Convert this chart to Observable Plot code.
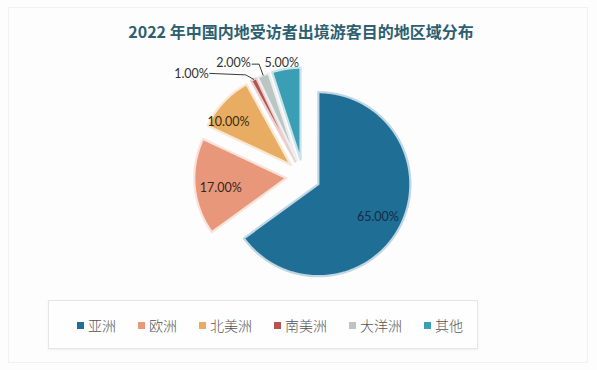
<!DOCTYPE html>
<html>
<head>
<meta charset="utf-8">
<script src="https://cdn.jsdelivr.net/npm/d3@7"></script>
<script src="https://cdn.jsdelivr.net/npm/@observablehq/plot@0.6"></script>
<style>
  html, body { margin: 0; padding: 0; background: #fdfdfd; }
  #wrap { position: relative; width: 597px; height: 370px; overflow: hidden; background: #fdfdfd; }
  #frame { position: absolute; left: 8px; top: 7px; width: 580px; height: 356px; border: 1px solid #f1f1f1; box-sizing: border-box; }
  #title { position: absolute; left: 0; top: 20px; width: 602px; text-align: center;
    font-family: "Noto Sans CJK SC", "Noto Sans", sans-serif; font-weight: 700; font-size: 16px; line-height: 22px; color: #2d5f70; }
  #chart { position: absolute; left: 0; top: 0; }
  #legend { position: absolute; left: 48px; top: 300px; width: 430px; height: 49px; box-sizing: border-box;
    border: 1px solid #e6e6e6; background: #fefefe; box-shadow: 0 1px 2px rgba(0,0,0,0.06); }
  .item { position: absolute; top: 15px; font-family: "Noto Sans CJK SC", sans-serif; font-weight: 300; font-size: 14px; line-height: 18px; color: #555; white-space: nowrap; }
  .sw { display: inline-block; width: 7px; height: 7px; margin-right: 4px; vertical-align: 2px; }
</style>
</head>
<body>
<div id="wrap">
  <div id="frame"></div>
  <div id="chart"></div>
  <div id="title"></div>
  <div id="legend"></div>
</div>
<script>
// ---- data ----
const titleText = "2022 年中国内地受访者出境游客目的地区域分布";
const regions = ["亚洲", "欧洲", "北美洲", "南美洲", "大洋洲", "其他"];
const shares = [65, 17, 10, 1, 2, 5];
const colors = ["#1f6e96", "#e9977b", "#e8ad62", "#b5544f", "#bac5c4", "#3a9fb5"];
const labels = ["65.00%", "17.00%", "10.00%", "1.00%", "2.00%", "5.00%"];

// ---- layout ----
const W = 597, H = 370;
const cx = 302.7, cy = 176, R = 92, explode = 17;
// label placement per slice: [radius factor from apex, angle offset (deg), dx, dy]
const labelLayout = [
  {rf: 0.74, da: 2, color: "#152b45"},
  {rf: 0.72, da: -3, color: "#3b2518"},
  {rf: 0.82, da: -9, color: "#3a2a10"},
  {out: true, x: 191, y: 73, color: "#333", leader: [[0, 0], [-8, -4.5], [-44, -6]]},
  {out: true, x: 233, y: 62, color: "#333", leader: [[0, 0], [-4, -11], [-11, -11]]},
  {rf: 1.07, da: -2, color: "#333"}
];

const arcs = d3.pie().sort(null).value(d => d)(shares);
const pt = (a, r) => [Math.sin(a) * r, -Math.cos(a) * r];

const polys = [];
const textRows = [];
const leaders = [];
arcs.forEach((a, i) => {
  const mid = (a.startAngle + a.endAngle) / 2;
  const [ox, oy] = pt(mid, explode);
  const ax = cx + ox, ay = cy + oy;
  const fill = colors[i];
  const stroke = d3.interpolateRgb(fill, "#ffffff")(0.72);
  polys.push({key: i, x: ax, y: ay, fill, stroke});
  const n = Math.max(4, Math.ceil((a.endAngle - a.startAngle) / (Math.PI / 360)));
  for (let k = 0; k <= n; k++) {
    const t = a.startAngle + (a.endAngle - a.startAngle) * k / n;
    const [px, py] = pt(t, R);
    polys.push({key: i, x: ax + px, y: ay + py, fill, stroke});
  }
  const L = labelLayout[i];
  if (L.out) {
    textRows.push({x: L.x, y: L.y, text: labels[i], color: L.color});
    const [ex, ey] = pt(mid, R);
    const sx = ax + ex, sy = ay + ey;
    L.leader.forEach(([dx, dy]) => leaders.push({key: i, x: sx + dx, y: sy + dy}));
  } else {
    const la = mid + L.da * Math.PI / 180;
    const [lx, ly] = pt(la, R * L.rf);
    textRows.push({x: ax + lx, y: ay + ly, text: labels[i], color: L.color});
  }
});

const chart = Plot.plot({
  width: W, height: H,
  margin: 0,
  x: {domain: [0, W], range: [0, W], axis: null},
  y: {domain: [0, H], range: [0, H], axis: null},
  color: {type: "identity"},
  style: {background: "transparent", overflow: "visible"},
  marks: [
    Plot.line(polys, {x: "x", y: "y", z: "key", fill: "fill", stroke: "stroke", strokeWidth: 2.2, curve: "linear-closed", strokeLinejoin: "round"}),
    Plot.line(leaders, {x: "x", y: "y", z: "key", stroke: "#3a3a3a", strokeWidth: 1}),
    Plot.text(textRows, {x: "x", y: "y", text: "text", fill: "color", fontSize: 12.5, fontFamily: "Lato, 'Open Sans', sans-serif", textAnchor: "middle"})
  ]
});
document.getElementById("chart").appendChild(chart);
document.getElementById("title").textContent = titleText;

// legend
const legendX = [28, 89, 150, 225, 300, 375];
const leg = document.getElementById("legend");
regions.forEach((r, i) => {
  const d = document.createElement("div");
  d.className = "item";
  d.style.left = legendX[i] + "px";
  d.innerHTML = `<span class="sw" style="background:${colors[i]}"></span>${r}`;
  leg.appendChild(d);
});
</script>
</body>
</html>
